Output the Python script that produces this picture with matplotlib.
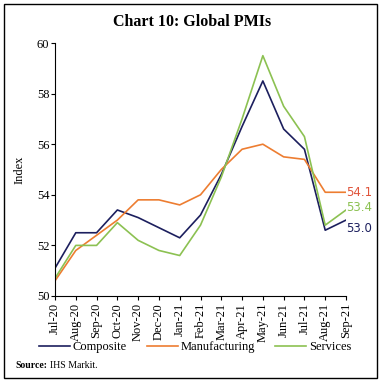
import matplotlib
matplotlib.use("Agg")
import matplotlib.pyplot as plt
from matplotlib.patches import Rectangle

months = ["Jul-20", "Aug-20", "Sep-20", "Oct-20", "Nov-20", "Dec-20", "Jan-21",
          "Feb-21", "Mar-21", "Apr-21", "May-21", "Jun-21", "Jul-21", "Aug-21", "Sep-21"]
composite = [51.1, 52.5, 52.5, 53.4, 53.1, 52.7, 52.3, 53.2, 54.8, 56.7, 58.5, 56.6, 55.8, 52.6, 53.0]
manufacturing = [50.6, 51.8, 52.4, 53.0, 53.8, 53.8, 53.6, 54.0, 55.0, 55.8, 56.0, 55.5, 55.4, 54.1, 54.1]
services = [50.7, 52.0, 52.0, 52.9, 52.2, 51.8, 51.6, 52.8, 54.7, 57.0, 59.5, 57.5, 56.3, 52.8, 53.4]

c_comp = "#1c1f5e"
c_manu = "#ed7d31"
c_serv = "#8cc152"

plt.rcParams['font.family'] = ['Liberation Serif', 'DejaVu Serif']

fig = plt.figure(figsize=(3.84, 3.82), dpi=100)
ax = fig.add_axes([55/384, 1-296/382, (346-55)/384, (296-43)/382])

x = list(range(len(months)))
ax.plot(x, composite, color=c_comp, lw=1.2, label="Composite")
ax.plot(x, manufacturing, color=c_manu, lw=1.2, label="Manufacturing")
ax.plot(x, services, color=c_serv, lw=1.2, label="Services")

ax.annotate(f"{manufacturing[-1]:.1f}", (x[-1], manufacturing[-1]), xytext=(0, 0),
            textcoords="offset points", color="#e0533a", fontsize=8.5,
            va="center", ha="left", family="DejaVu Sans", annotation_clip=False)
ax.annotate(f"{services[-1]:.1f}", (x[-1], services[-1]), xytext=(0, 2),
            textcoords="offset points", color=c_serv, fontsize=8.5,
            va="center", ha="left", family="DejaVu Sans", annotation_clip=False)
ax.annotate(f"{composite[-1]:.1f}", (x[-1], composite[-1]), xytext=(0, -6),
            textcoords="offset points", color=c_comp, fontsize=8.5,
            va="center", ha="left", family="DejaVu Sans", annotation_clip=False)

ax.set_xlim(0, len(months) - 1)
ax.set_ylim(50, 60)
ax.set_yticks([50, 52, 54, 56, 58, 60])
ax.set_xticks(x)
ax.set_xticklabels(months, rotation=90, fontsize=9)
ax.tick_params(axis='y', labelsize=9, length=3, width=0.8, pad=1)
ax.tick_params(axis='x', length=3, width=0.8, pad=2)
ax.spines['top'].set_visible(False)
ax.spines['right'].set_visible(False)
ax.set_ylabel("Index", fontsize=9, labelpad=8)

fig.text(0.5, 1-22/382, "Chart 10: Global PMIs", ha="center", va="center",
         fontsize=11.5, fontweight="bold")

handles, labels = ax.get_legend_handles_labels()
fig.legend(handles, labels, loc="center", bbox_to_anchor=(195/384, 1-347/382),
           ncol=3, frameon=False, fontsize=9, handlelength=2.5,
           columnspacing=1.6, handletextpad=0.2)

fig.text(15/384, 1-365/382, "Source:", fontsize=7, fontweight="bold", va="center")
fig.text(50/384, 1-365/382, "IHS Markit.", fontsize=7, va="center")

fig.patches.append(Rectangle((4/384, 4/382), 373/384, 374/382, transform=fig.transFigure,
                             fill=False, edgecolor="black", lw=1.0))

fig.savefig("out.png", dpi=100)
